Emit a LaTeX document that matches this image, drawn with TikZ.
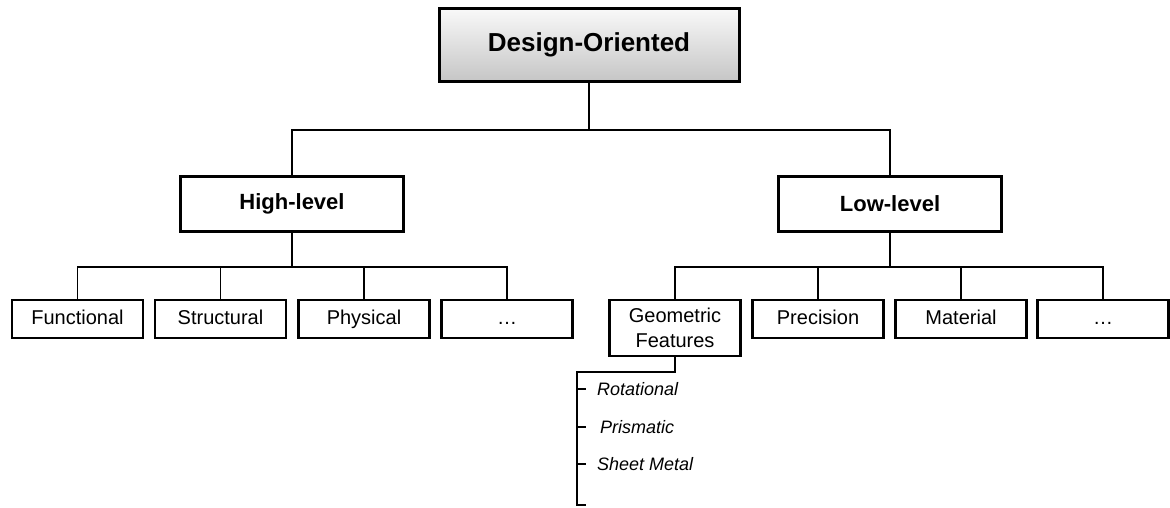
\documentclass[tikz,border=0pt]{standalone}
\usepackage{fontspec}
\setmainfont{Liberation Sans}
\usetikzlibrary{shadows}

\begin{document}
\begin{tikzpicture}[x=1pt,y=-1pt,
    topbox/.style={draw,line width=3pt,minimum width=300pt,minimum height=73pt,
      top color=gray!5,bottom color=gray!45,
      drop shadow={opacity=.35,shadow xshift=1.5pt,shadow yshift=-1.5pt},
      font=\fontsize{26}{30}\selectfont\bfseries},
    levelbox/.style={draw,line width=3pt,fill=white,minimum width=223pt,minimum height=55pt,
      drop shadow={opacity=.25,shadow xshift=1pt,shadow yshift=-1pt},
      font=\fontsize{22}{26}\selectfont\bfseries},
    leafbox/.style={draw,line width=2.3pt,fill=white,minimum width=131pt,minimum height=38pt,
      inner sep=2pt,align=center,
      drop shadow={opacity=.25,shadow xshift=1pt,shadow yshift=-1pt},
      font=\fontsize{20}{25}\selectfont},
    oneline/.style={leafbox,text height=14.5pt,text depth=4.5pt},
    subitem/.style={anchor=west,inner sep=0pt,font=\fontsize{18}{22}\selectfont\itshape},
    link/.style={line width=1.3pt}]
          \useasboundingbox (0,0) rectangle (1170,507);

          % top of the tree
          \node[topbox] (design) at (589,45) {Design-Oriented};
          \node[levelbox] (high) at (292,204) {High-level};
          \node[levelbox] (low) at (890,204) {Low-level};

          % leaves
          \node[oneline] (func) at (77.5,319) {Functional};
          \node[oneline] (struct) at (220.5,319) {Structural};
          \node[oneline] (phys) at (364,319) {Physical};
          \node[oneline] (hdots) at (507,319) {\ldots};
          \node[leafbox,minimum height=56pt] (geo) at (675,328) {Geometric\\Features};
          \node[oneline] (prec) at (818,319) {Precision};
          \node[oneline] (mat) at (961,319) {Material};
          \node[oneline] (ldots) at (1103,319) {\ldots};

          \begin{scope}[link]
            \draw (design.south) -- ++(0,47) -| (high.north);
            \draw (design.south) -- ++(0,47) -| (low.north);
            \foreach \leaf in {func,struct,phys,hdots}
              \draw (high.south) -- ++(0,34) -| (\leaf.north);
            \foreach \leaf in {geo,prec,mat,ldots}
              \draw (low.south) -- ++(0,34) -| (\leaf.north);
          \end{scope}

          % geometric feature kinds
          \coordinate (railtop) at (577,372);
          \coordinate (railend) at (577,505);
          \node[subitem] (rot) at (597,389) {Rotational};
          \node[subitem] (prism) at (600,427) {Prismatic};
          \node[subitem] (sheet) at (597,464) {Sheet Metal};

          \begin{scope}[link]
            \draw (geo.south) |- (railtop) -- (railend) -- ++(9,0);
            \foreach \kind in {rot,prism,sheet}
              \draw (railtop |- \kind.west) -- ++(9,0);
          \end{scope}
        \end{tikzpicture}
\end{document}
